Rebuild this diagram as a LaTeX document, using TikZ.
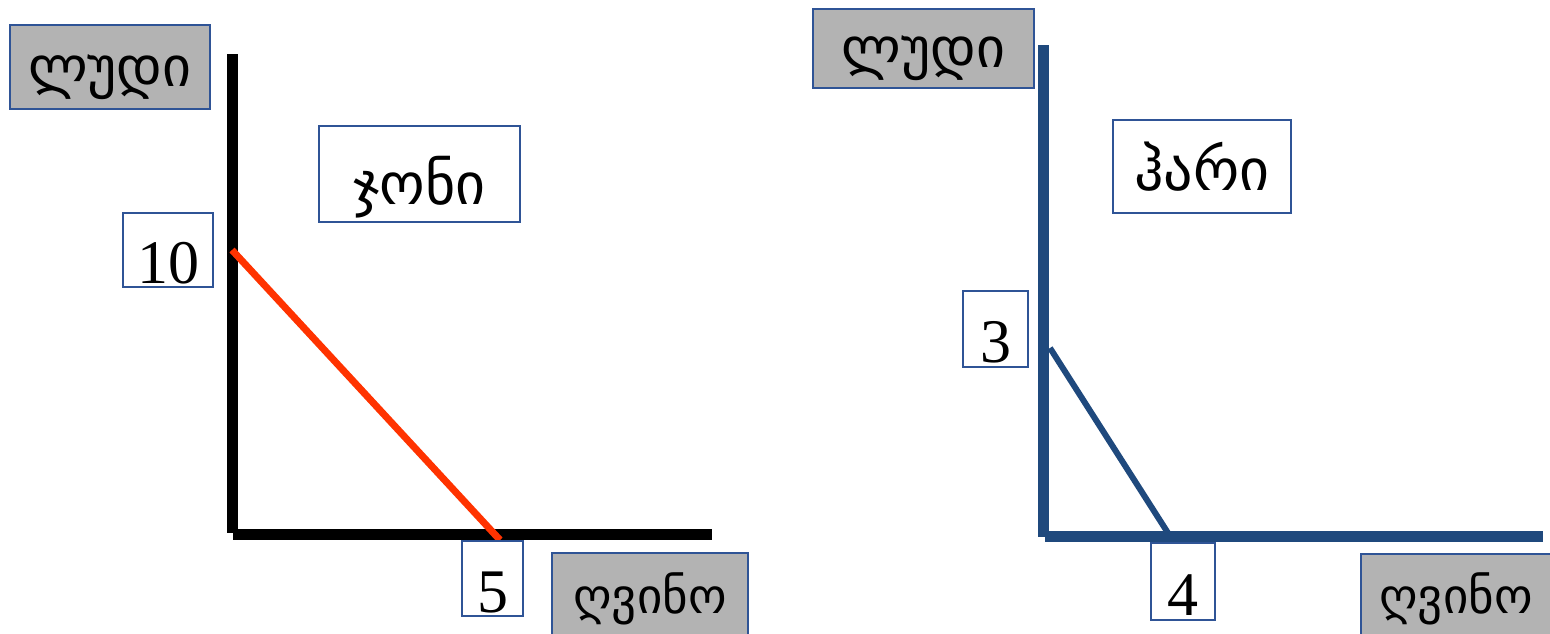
\documentclass[tikz,border=0pt]{standalone}
\usepackage{fontspec}
\setmainfont{Liberation Serif}
\newfontfamily\geo{DejaVu Sans}
\definecolor{boxblue}{RGB}{47,84,150}
\definecolor{boxgray}{RGB}{179,179,179}
\definecolor{axisblue}{RGB}{31,73,125}
\definecolor{budred}{RGB}{255,51,0}
\tikzset{
  lbl/.style={draw=boxblue, line width=1.2pt, inner sep=0pt, fill=white,
    font=\fontsize{62}{70}\selectfont, text height=67pt, text depth=0pt},
  axlbl/.style={lbl, fill=boxgray, font=\geo\fontsize{56}{64}\selectfont, text height=38pt},
  winelbl/.style={axlbl, font=\geo\fontsize{49}{56}\selectfont},
  namelbl/.style={lbl, font=\geo\fontsize{58}{66}\selectfont, text height=52pt},
  axisk/.style={line width=11pt, line cap=butt},
}
\begin{document}
\begin{tikzpicture}[x=1pt,y=-1pt]
\useasboundingbox (0,0) rectangle (1550,633);
% left panel
\coordinate (Ltop) at (232,54);
\coordinate (Lcorner) at (232,533);
\coordinate (Lhstart) at (233,534);
\coordinate (Lhend) at (712,534);
\coordinate (Lyi) at (232,250);
\coordinate (Lxi) at (500,540);
\draw[axisk, black] (Ltop) -- (Lcorner);
\draw[axisk, black] (Lhstart) -- (Lhend);
\draw[budred, line width=7pt] (Lyi) -- (Lxi);
\node[axlbl, minimum width=200pt, minimum height=84pt] (Lbeer) at (110,67) {ლუდი};
\node[lbl, minimum width=90pt, minimum height=74pt] (L10) at (168,250) {10};
\node[namelbl, minimum width=201pt, minimum height=96pt, text height=60pt] (john) at (419.5,174) {ჯონი};
\node[lbl, minimum width=61pt, minimum height=75pt] (L5) at (492.5,578.5) {5};
\node[winelbl, minimum width=196pt, minimum height=86pt, text height=34pt] (Lwine) at (650,596) {ღვინო};
% right panel
\coordinate (Rtop) at (1043.5,45);
\coordinate (Rcorner) at (1043.5,537);
\coordinate (Rhstart) at (1045,536.5);
\coordinate (Rhend) at (1543,536.5);
\coordinate (Ryi) at (1050,348);
\coordinate (Rxi) at (1168,533);
\draw[axisk, axisblue] (Rtop) -- (Rcorner);
\draw[axisk, axisblue] (Rhstart) -- (Rhend);
\draw[axisblue, line width=6pt] (Ryi) -- (Rxi);
\node[axlbl, minimum width=221pt, minimum height=79pt] (Rbeer) at (923.5,48.5) {ლუდი};
\node[lbl, minimum width=65pt, minimum height=76pt] (R3) at (995.5,329) {3};
\node[namelbl, minimum width=178pt, minimum height=93pt, text height=48pt] (harry) at (1202,166.5) {ჰარი};
\node[lbl, minimum width=64pt, minimum height=77pt] (R4) at (1183,581.5) {4};
\node[winelbl, minimum width=190pt, minimum height=86pt, text height=32pt] (Rwine) at (1456,597) {ღვინო};
\end{tikzpicture}
\end{document}
